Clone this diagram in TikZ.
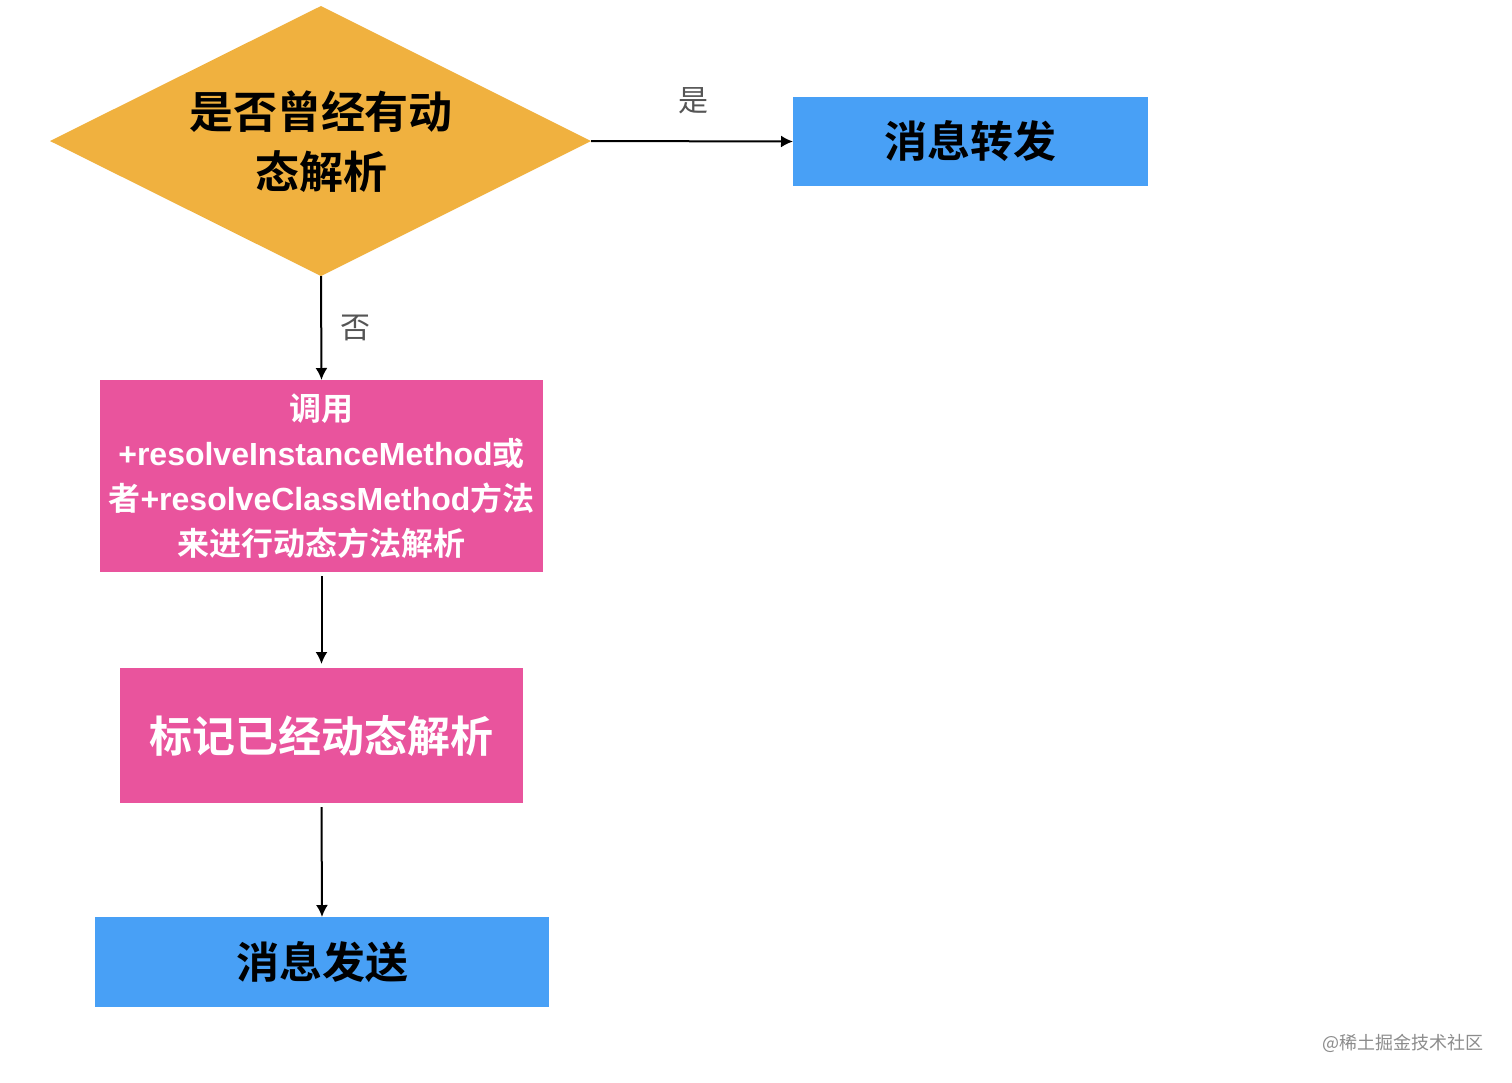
\documentclass[tikz,border=0pt]{standalone}
\usepackage{fontspec}
\setmainfont{Noto Sans CJK SC}
\newfontfamily\cjkb{Noto Sans CJK SC Bold}
\newfontfamily\cjkr{Noto Sans CJK SC}
\newfontfamily\latb{Liberation Sans Bold}
\newcommand{\lt}[1]{{\latb #1}}
\usetikzlibrary{shapes.geometric,arrows.meta}
\definecolor{dorange}{HTML}{F0B13F}
\definecolor{dblue}{HTML}{48A0F6}
\definecolor{dpink}{HTML}{E9549D}
\definecolor{lblgray}{HTML}{555555}
\begin{document}
\begin{tikzpicture}[x=0.5pt,y=-0.5pt,
  box/.style={draw=none,inner sep=0pt,outer sep=0pt,align=center,font=\cjkb},
  conn/.style={line width=1pt,-{Latex[length=6pt,width=6pt]}},
  lbl/.style={font=\cjkr\fontsize{15}{18}\selectfont,text=lblgray}]
\useasboundingbox (0,0) rectangle (1512,1083);
\fill[white] (0,0) rectangle (1512,1083);
% decision diamond
\fill[dorange] (50,141) -- (321,6) -- (591,141) -- (321,276) -- cycle;
\coordinate (dR) at (591,141);
\coordinate (dB) at (321,276);
\node[font=\cjkb\fontsize{22}{30}\selectfont,align=center] (dtext) at (321,142) {是否曾经有动\\态解析};
% boxes
\node[box,fill=dblue,minimum width=355*0.5pt,minimum height=89*0.5pt,font=\cjkb\fontsize{21.5}{26}\selectfont] (fwd) at (970.5,141.5) {消息转发};
\node[box,fill=dpink,text=white,minimum width=443*0.5pt,minimum height=192*0.5pt,font=\cjkb\fontsize{16}{22.5}\selectfont] (call) at (321.5,476) {调用\\\lt{+resolveInstanceMethod}或\\者\lt{+resolveClassMethod}方法\\来进行动态方法解析};
\node[box,fill=dpink,text=white,minimum width=403*0.5pt,minimum height=135*0.5pt,font=\cjkb\fontsize{21.5}{26}\selectfont] (mark) at (321.5,735.5) {标记已经动态解析};
\node[box,fill=dblue,minimum width=454*0.5pt,minimum height=90*0.5pt,font=\cjkb\fontsize{21.5}{26}\selectfont] (send) at (322,962) {消息发送};
% connectors
\draw[conn] (dR) -- (fwd.west);
\node[lbl] (yes) at (693,101) {是};
\draw[conn] (dB) -- (call.north);
\node[lbl] (no) at (355,328) {否};
\draw[conn] ([yshift=-2pt]call.south) -- ([yshift=2pt]mark.north);
\draw[conn] ([yshift=-2pt]mark.south) -- (send.north);
% watermark
\node[font=\cjkr\fontsize{9}{11}\selectfont,text=black!45] (wm) at (1403,1043) {@稀土掘金技术社区};
\end{tikzpicture}
\end{document}
